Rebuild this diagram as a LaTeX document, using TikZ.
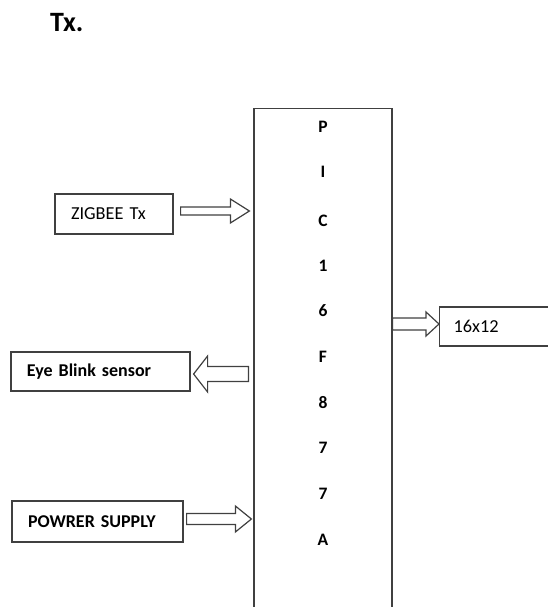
\documentclass[tikz,border=0pt]{standalone}
\usepackage{fontspec}
\setmainfont{Carlito}[WordSpace=0.85]
\usetikzlibrary{calc}
\tikzset{
  line/.style={draw=black!75, line width=1.2pt},
  blk/.style={line, rectangle, inner ysep=0pt, inner xsep=16pt, align=left, font=\fontsize{18.3}{20}\selectfont},
  pin/.style={font=\bfseries\fontsize{17.5}{20}\selectfont, inner sep=0pt},
  barrow/.style={line, fill=white, line join=miter}
}
% right-pointing block arrow from #1 to #2, shaft half #3, head half #4, head length #5
\newcommand\blockarr[5]{%
  \draw[barrow] ($(#1)+(0,#3)$) -- ($(#2)+(-#5,#3)$) -- ($(#2)+(-#5,#4)$) -- (#2)
    -- ($(#2)+(-#5,-#4)$) -- ($(#2)+(-#5,-#3)$) -- ($(#1)+(0,-#3)$) -- cycle;}
\begin{document}
\begin{tikzpicture}[x=1pt, y=-1pt]
\useasboundingbox (0,0) rectangle (548,607);
\clip (0,0) rectangle (548,607);
\node[anchor=base west, inner sep=0pt, font=\bfseries\fontsize{28}{32}\selectfont] (title) at (50,32) {Tx.};
% PIC box
\node[line, rectangle, minimum width=138pt, minimum height=560pt, anchor=north, inner sep=0pt] (pic) at (323,108) {};
\node[pin] (p1) at (323,127) {P};
\node[pin] (p2) at (323,172) {I};
\node[pin] (p3) at (323,221) {C};
\node[pin] (p4) at (323,266) {1};
\node[pin] (p5) at (323,311) {6};
\node[pin] (p6) at (323,357) {F};
\node[pin] (p7) at (323,403) {8};
\node[pin] (p8) at (323,448) {7};
\node[pin] (p9) at (323,494) {7};
\node[pin] (p10) at (323,540) {A};
% boxes
\node[blk, text width=86pt, minimum height=40pt] (zig) at (114,214) {ZIGBEE Tx};
\node[blk, text width=147pt, minimum height=39pt, font=\bfseries\fontsize{18}{20}\selectfont] (eye) at (100.5,371.5) {Eye Blink sensor};
\node[blk, text width=139pt, minimum height=41pt, font=\bfseries\fontsize{18}{20}\selectfont] (pow) at (97.5,521.5) {POWRER SUPPLY};
\node[blk, text width=108pt, minimum height=39pt, anchor=west, inner xsep=14pt] (disp) at (439,326.5) {16x12};
% arrow end points
\coordinate (a1s) at ($(zig.east)+(7,-3)$);
\coordinate (a1e) at (pic.west|-a1s);
\coordinate (a2s) at ($(pic.west|-eye.east)+(-5,2.5)$);
\coordinate (a2e) at ($(eye.east)+(3,2.5)$);
\coordinate (a3s) at ($(pow.east)+(3,-2.5)$);
\coordinate (a3e) at ($(pic.west|-a3s)+(-2,0)$);
\coordinate (a4s) at ($(pic.east|-disp.west)+(0,-2.5)$);
\coordinate (a4e) at ($(disp.west)+(0,-2.5)$);
\blockarr{a1s}{$(a1e)+(-4,0)$}{4}{12}{19}
\blockarr{a2s}{a2e}{7.5}{18}{-14}
\blockarr{a3s}{a3e}{5.5}{13}{16}
\blockarr{a4s}{a4e}{6}{12}{13}
\end{tikzpicture}
\end{document}
